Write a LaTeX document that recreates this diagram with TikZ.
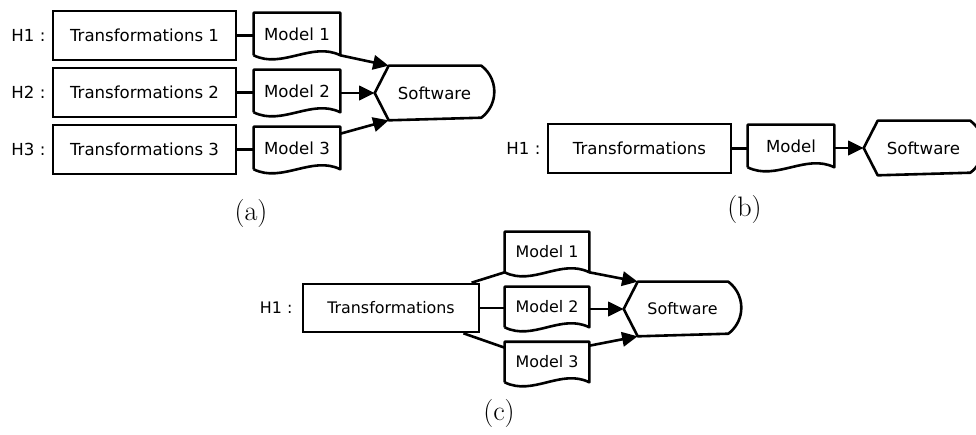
\documentclass[tikz,border=0pt]{standalone}
\usepackage{fontspec}
\usetikzlibrary{arrows.meta, positioning}
\newfontfamily\dejavu{DejaVu Sans}

\begin{document}
\begin{tikzpicture}[x=0.025cm, y=-0.025cm, line width=0.65mm,
      lab/.style={font=\dejavu\fontsize{11.8}{14}\selectfont},
      tbox/.style={draw, lab, minimum width=45.75mm, minimum height=12.25mm, inner sep=0pt},
      hlab/.style={lab, inner sep=0pt},
      doc/.style={lab, minimum width=21mm, minimum height=10mm, inner sep=0pt,
        append after command={\pgfextra{\draw[line join=round]
          (\tikzlastnode.south west) -- (\tikzlastnode.north west)
          -- (\tikzlastnode.north east) -- (\tikzlastnode.south east)
          .. controls +(-7mm,3.5mm) and +(7mm,-3.5mm) .. (\tikzlastnode.south west);}}},
      display/.style={lab, minimum width=29.25mm, minimum height=13mm, inner sep=0pt,
        append after command={\pgfextra{\draw[line join=round]
          (\tikzlastnode.west) -- ([xshift=3.5mm]\tikzlastnode.north west)
          -- ([xshift=-3.25mm]\tikzlastnode.north east)
          arc[start angle=53.13, end angle=-53.13, radius=8.125mm]
          -- ([xshift=3.5mm]\tikzlastnode.south west) -- cycle;}}},
      arr/.style={-{Triangle[length=3.9mm, width=3.6mm]}},
      subcap/.style={font=\fontsize{20}{24}\selectfont, inner sep=0pt}]
    \useasboundingbox (0,0) rectangle (976,435);
    % (a) three hypotheses
    \foreach \i/\y in {1/35.5, 2/92.5, 3/149.5} {
      \node[tbox] (ta\i) at (144.5,\y) {Transformations \i};
      \node[hlab, left=1.25mm of ta\i] (ha\i) {H\i{} :};
      \node[doc] (ma\i) at (297,\y-1.5) {Model \i};
      \draw (ta\i.east) -- (ta\i.east -| ma\i.west);
    }
    \node[display] (swa) at (434.5,93) {Software};
    \draw[arr] (ma1.south east) -- ([xshift=3.5mm]swa.north west);
    \draw[arr] (ma2.east |- swa.west) -- (swa.west);
    \draw[arr] ([yshift=-1.75mm]ma3.north east) -- ([xshift=3.5mm]swa.south west);
    \node[subcap] (capa) at (251,213) {(a)};
    % (b) one hypothesis, one model
    \node[tbox] (tb) at (639.5,148.5) {Transformations};
    \node[hlab, left=1.25mm of tb] (hb) {H1 :};
    \node[doc] (mb) at (791,146) {Model};
    \node[display] (swb) at (923.5,148) {Software};
    \draw (tb.east) -- (tb.east -| mb.west);
    \draw[arr] (mb.east |- swb.west) -- (swb.west);
    \node[subcap] (capb) at (744.5,209.5) {(b)};
    % (c) one hypothesis, three models
    \begin{scope}[lab/.style={font=\dejavu\fontsize{11.3}{13.5}\selectfont}]
      \node[tbox, minimum width=44mm, minimum height=12mm] (tc) at (391,308) {Transformations};
      \node[hlab, left=2mm of tc] (hc) {H1 :};
      \foreach \i/\y in {1/252, 2/307, 3/362}
        \node[doc, minimum width=20.5mm, minimum height=9.5mm] (mc\i) at (547,\y) {Model \i};
      \node[display, minimum width=28.75mm] (swc) at (682.5,309) {Software};
    \end{scope}
    \draw (tc) -- (mc1.south west);
    \draw (tc.east) -- (tc.east -| mc2.west);
    \draw (tc) -- ([yshift=-1.5mm]mc3.north west);
    \draw[arr] (mc1.south east) -- ([xshift=3.5mm]swc.north west);
    \draw[arr] (mc2.east |- swc.west) -- (swc.west);
    \draw[arr] ([yshift=-1mm]mc3.north east) -- ([xshift=3.5mm]swc.south west);
    \node[subcap] (capc) at (499,413) {(c)};
  \end{tikzpicture}
\end{document}
